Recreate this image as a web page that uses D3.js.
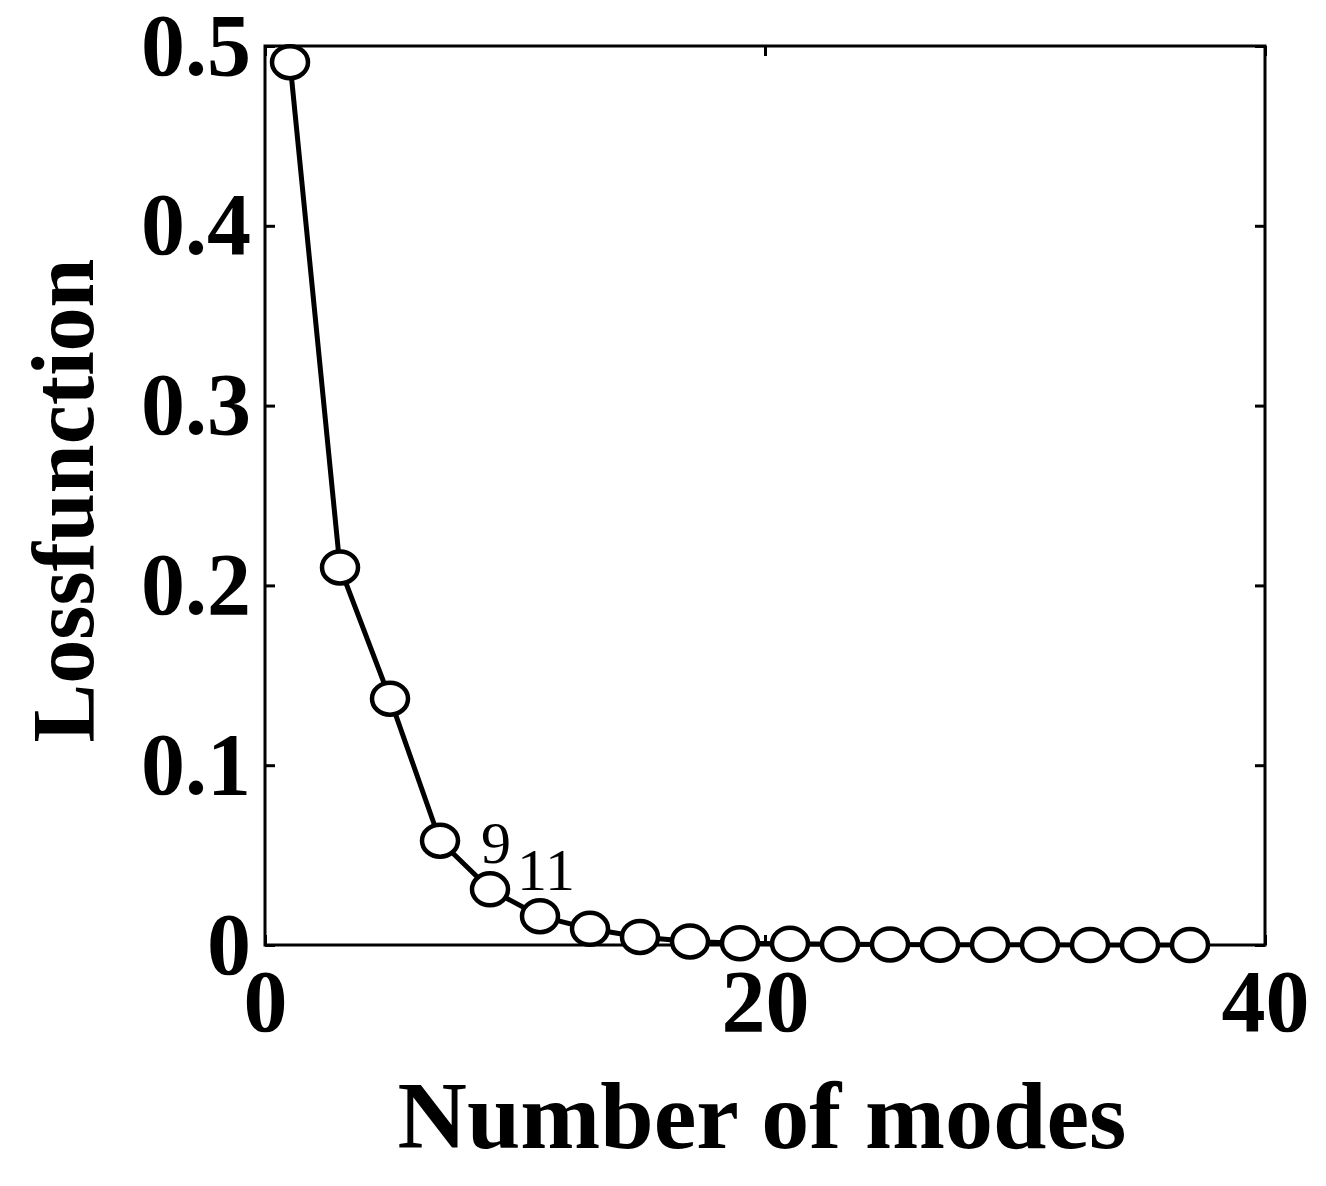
<!DOCTYPE html>
<html><head><meta charset="utf-8">
<script src="https://cdn.jsdelivr.net/npm/d3@7"></script>
<style>body{margin:0;background:#fff}</style>
</head><body>
<script>
const modes = [1,3,5,7,9,11,13,15,17,19,21,23,25,27,29,31,33,35,37];
const loss = [0.491,0.210,0.137,0.058,0.031,0.016,0.009,0.0045,0.002,0.001,0.0007,0.0004,0.0003,0.0002,0.0001,0.0001,0,0,0];
const xTicks = [0,20,40];
const yTicks = [0,0.1,0.2,0.3,0.4,0.5];
const notes = [{n:9,label:"9"},{n:11,label:"11"}];

const W = 1326, H = 1186;
const m = {l:265, r:61, t:46, b:241};
const svg = d3.select("body").append("svg").attr("width",W).attr("height",H);
const x = d3.scaleLinear().domain([0,40]).range([m.l, W-m.r]);
const y = d3.scaleLinear().domain([0,0.5]).range([H-m.b, m.t]);
const font = "'Liberation Serif','Times New Roman',serif";

// frame
svg.append("rect").attr("x",m.l).attr("y",m.t).attr("width",W-m.l-m.r).attr("height",H-m.t-m.b)
  .attr("fill","none").attr("stroke","#000").attr("stroke-width",3);

const style = g => {
  g.select(".domain").remove();
  g.selectAll("line").attr("stroke","#000").attr("stroke-width",3);
  g.selectAll("text").attr("font-family",font).attr("font-weight","bold").attr("font-size",88).attr("fill","#000");
};
svg.append("g").attr("transform",`translate(0,${H-m.b})`)
  .call(d3.axisBottom(x).tickValues(xTicks).tickSize(-10).tickPadding(24).tickFormat(d3.format("d"))).call(style);
svg.append("g").attr("transform",`translate(0,${m.t})`)
  .call(d3.axisTop(x).tickValues(xTicks).tickSize(-10).tickFormat("")).call(style);
svg.append("g").attr("transform",`translate(${m.l},0)`)
  .call(d3.axisLeft(y).tickValues(yTicks).tickSize(-10).tickPadding(14).tickFormat(d => d===0?"0":d3.format(".1f")(d))).call(style);
svg.append("g").attr("transform",`translate(${W-m.r},0)`)
  .call(d3.axisRight(y).tickValues(yTicks).tickSize(-10).tickFormat("")).call(style);

const data = modes.map((n,i)=>({n, v:loss[i]}));
svg.append("path").datum(data)
  .attr("d", d3.line().x(d=>x(d.n)).y(d=>y(d.v)))
  .attr("fill","none").attr("stroke","#000").attr("stroke-width",5);
svg.selectAll("ellipse").data(data).enter().append("ellipse")
  .attr("cx",d=>x(d.n)).attr("cy",d=>y(d.v)).attr("rx",18).attr("ry",16)
  .attr("fill","#fff").attr("stroke","#000").attr("stroke-width",4.5);

svg.selectAll(".note").data(notes).enter().append("text")
  .attr("x",d=>x(d.n)+6).attr("y",d=>y(loss[modes.indexOf(d.n)])-26)
  .attr("font-family",font).attr("font-size",60).attr("text-anchor","middle").text(d=>d.label);

svg.append("text").attr("x",762).attr("y",1148).attr("text-anchor","middle")
  .attr("font-family",font).attr("font-weight","bold").attr("font-size",96).text("Number of modes");
svg.append("text").attr("transform",`translate(93,${(m.t+H-m.b)/2+5}) rotate(-90)`).attr("text-anchor","middle")
  .attr("font-family",font).attr("font-weight","bold").attr("font-size",88).text("Lossfunction");
</script>
</body></html>
